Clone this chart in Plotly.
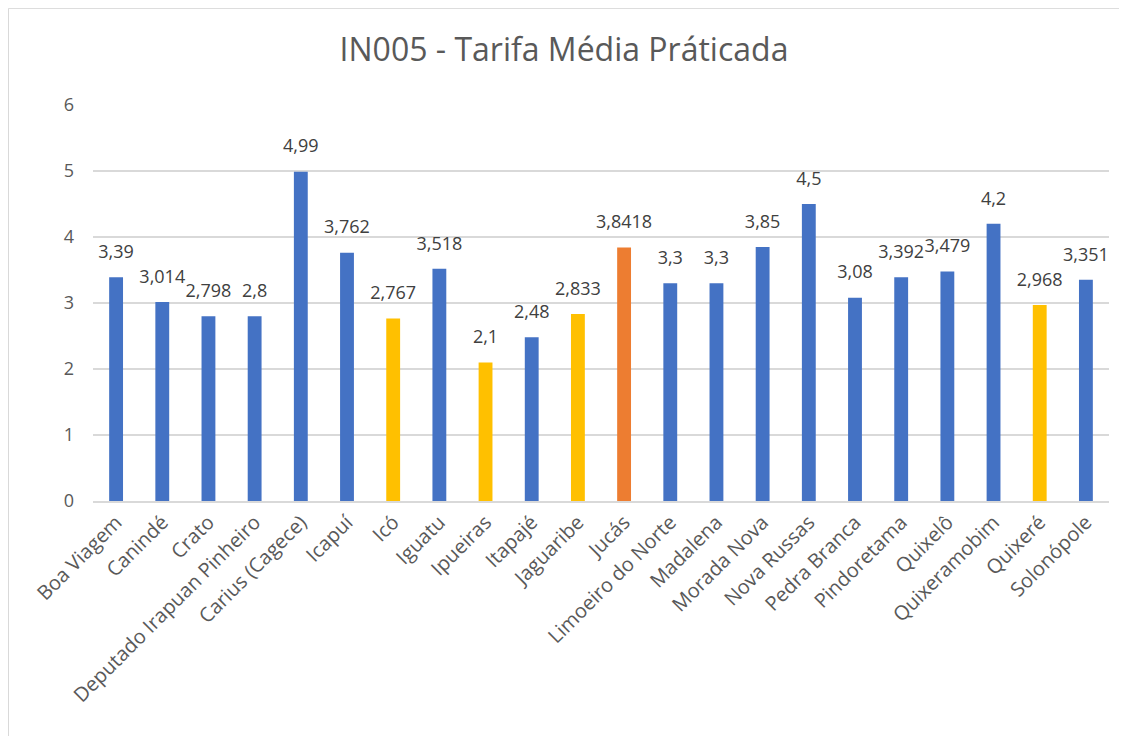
import plotly.graph_objects as go

categories = ["Boa Viagem", "Canindé", "Crato", "Deputado Irapuan Pinheiro", "Carius (Cagece)",
              "Icapuí", "Icó", "Iguatu", "Ipueiras", "Itapajé", "Jaguaribe", "Jucás",
              "Limoeiro do Norte", "Madalena", "Morada Nova", "Nova Russas", "Pedra Branca",
              "Pindoretama", "Quixelô", "Quixeramobim", "Quixeré", "Solonópole"]
values = [3.39, 3.014, 2.798, 2.8, 4.99, 3.762, 2.767, 3.518, 2.1, 2.48, 2.833, 3.8418,
          3.3, 3.3, 3.85, 4.5, 3.08, 3.392, 3.479, 4.2, 2.968, 3.351]
labels = ["3,39", "3,014", "2,798", "2,8", "4,99", "3,762", "2,767", "3,518", "2,1", "2,48",
          "2,833", "3,8418", "3,3", "3,3", "3,85", "4,5", "3,08", "3,392", "3,479", "4,2",
          "2,968", "3,351"]
groups = ["b", "b", "b", "b", "b", "b", "y", "b", "y", "b", "y", "o",
          "b", "b", "b", "b", "b", "b", "b", "b", "y", "b"]

palette = {"b": "#4472C4", "y": "#FFC000", "o": "#ED7D31"}
colors = [palette[g] for g in groups]

FONT = "Open Sans"
TXT = "#595959"

W, H = 1112, 728
L, R, T, B = 85, 11, 97, 235
PW, PH = W - L - R, H - T - B

fig = go.Figure()
fig.add_trace(go.Bar(
    x=categories, y=values,
    marker=dict(color=colors, line=dict(width=0)),
    width=0.3, hoverinfo="x+y",
))
fig.add_trace(go.Scatter(
    x=categories, y=values, text=labels, mode="markers+text",
    textposition="top center",
    marker=dict(size=22, opacity=0),
    textfont=dict(family=FONT, size=18, color="#404040"),
    cliponaxis=False, hoverinfo="skip",
))

fig.update_layout(
    width=W, height=H,
    margin=dict(l=L, r=R, t=T, b=B),
    paper_bgcolor="white", plot_bgcolor="white",
    title=dict(text="IN005 - Tarifa Média Práticada", x=0.5, xanchor="center",
               y=1 - 42 / H, yanchor="middle",
               font=dict(family=FONT, size=32, color=TXT)),
    showlegend=False,
    font=dict(family=FONT, color=TXT),
    xaxis=dict(tickangle=-45, tickfont=dict(family=FONT, size=20, color=TXT),
               range=[-0.5, len(categories) - 0.5],
               showgrid=False, showline=True, linecolor="#D9D9D9", linewidth=1.5,
               ticks=""),
    yaxis=dict(range=[0, 6], dtick=1, tickfont=dict(family=FONT, size=18, color=TXT),
               showgrid=True, gridcolor="#D9D9D9", gridwidth=1.5, zeroline=False,
               showline=False, ticks="", ticklabelstandoff=18),
    shapes=[dict(type="rect", xref="paper", yref="paper",
                 x0=-L / PW + 0.0005, x1=1 + R / PW - 0.0005,
                 y0=-B / PH - 0.002, y1=1 + T / PH - 0.001,
                 line=dict(color="#D9D9D9", width=1), layer="below")],
)

fig.write_html("out.html")
